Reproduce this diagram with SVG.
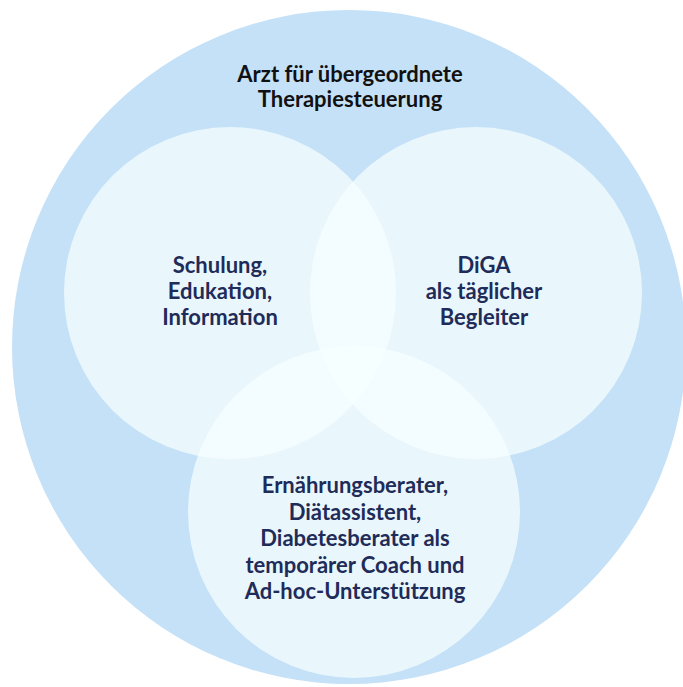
<svg xmlns="http://www.w3.org/2000/svg" width="683" height="687" viewBox="0 0 683 687">
<style>
.outer{fill:#C5E1F7}
.inner{fill:#F6FFFF;fill-opacity:0.72}
text{font-family:Lato,"Open Sans","Liberation Sans",sans-serif;font-weight:700;font-size:22px;text-anchor:middle}
.t{fill:#111111}
.n{fill:#1F2B58}
</style>
<g id="outer-node">
<circle class="outer" cx="349" cy="347" r="337"/>
<text class="t" x="350" y="82">Arzt für übergeordnete</text>
<text class="t" x="350" y="107">Therapiesteuerung</text>
</g>
<g id="left-node">
<circle class="inner" cx="230" cy="293" r="166"/>
</g>
<g id="right-node">
<circle class="inner" cx="476" cy="293" r="166"/>
</g>
<g id="bottom-node">
<circle class="inner" cx="354" cy="512" r="166"/>
</g>
<g id="labels">
<text class="n" x="220" y="273">Schulung,</text>
<text class="n" x="220" y="299">Edukation,</text>
<text class="n" x="220" y="325">Information</text>
<text class="n" x="484" y="273">DiGA</text>
<text class="n" x="484" y="299">als täglicher</text>
<text class="n" x="484" y="325">Begleiter</text>
<text class="n" x="355" y="493">Ernährungsberater,</text>
<text class="n" x="355" y="520">Diätassistent,</text>
<text class="n" x="355" y="546">Diabetesberater als</text>
<text class="n" x="355" y="573">temporärer Coach und</text>
<text class="n" x="355" y="599">Ad-hoc-Unterstützung</text>
</g>
<g id="connectors"/>
</svg>
